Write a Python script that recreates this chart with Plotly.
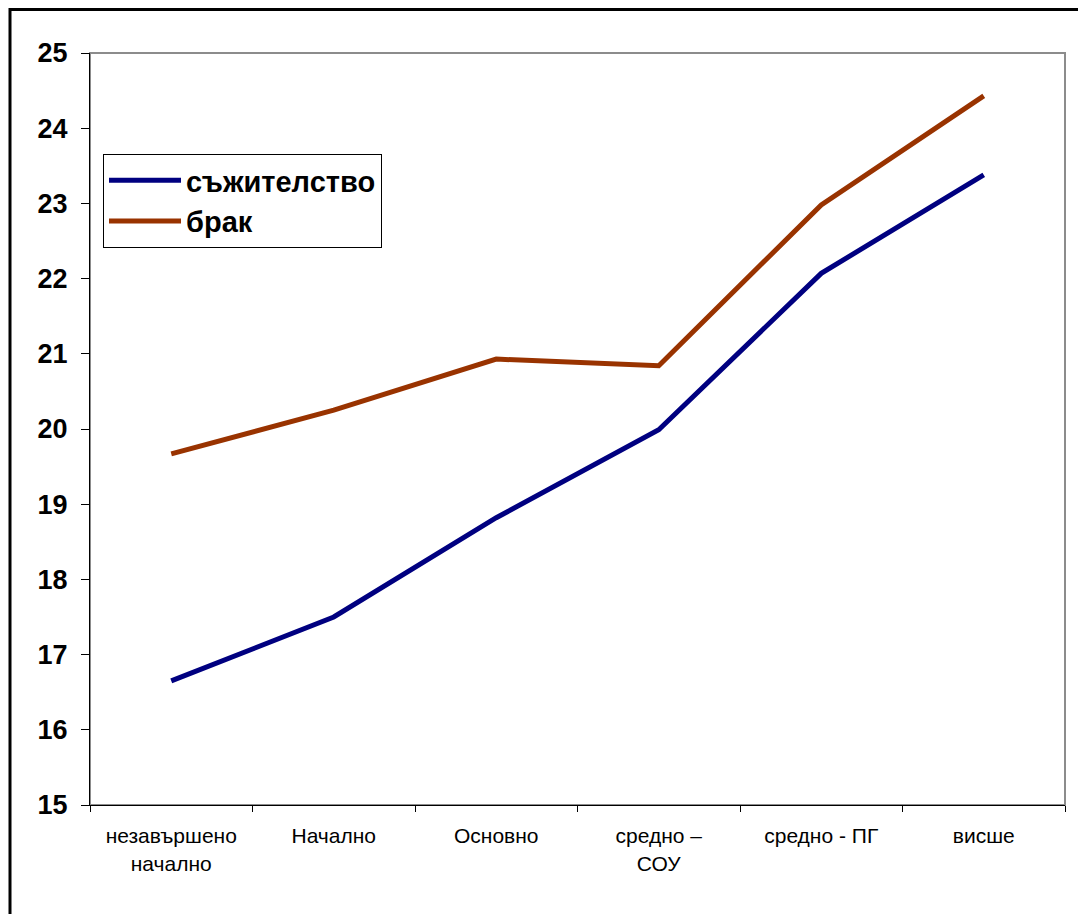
import plotly.graph_objects as go

categories = ["незавършено<br>начално", "Начално", "Основно", "средно –<br>СОУ", "средно - ПГ", "висше"]
cohabitation = [16.65, 17.5, 18.82, 19.99, 22.07, 23.38]
marriage = [19.67, 20.25, 20.93, 20.84, 22.98, 24.43]
y_ticks = [15, 16, 17, 18, 19, 20, 21, 22, 23, 24, 25]

OFF = 8  # page body margin
W, H = 1086 - OFF, 914 - OFF
L, R, T, B = 90 - OFF, 1065 - OFF, 53 - OFF, 805 - OFF

fig = go.Figure()
fig.add_trace(go.Scatter(x=categories, y=cohabitation, mode="lines", name="съжителство",
                         line=dict(color="#000080", width=5)))
fig.add_trace(go.Scatter(x=categories, y=marriage, mode="lines", name="брак",
                         line=dict(color="#993300", width=5)))

pw, ph = R - L, B - T
def px(x):
    return (x - OFF - L) / pw
def py(y):
    return 1 - (y - OFF - T) / ph

fig.update_layout(
    width=W, height=H,
    margin=dict(l=L, r=W - R, t=T, b=H - B, pad=0),
    paper_bgcolor="white", plot_bgcolor="white",
    font=dict(family="Liberation Sans, Arial, sans-serif", color="black"),
    showlegend=True,
    legend=dict(x=px(103), y=py(154), xanchor="left", yanchor="top",
                bordercolor="black", borderwidth=1, bgcolor="white",
                font=dict(size=29, family="Liberation Sans, Arial, sans-serif", weight="bold"),
                tracegroupgap=0, itemwidth=72),
    xaxis=dict(type="category", tickson="boundaries", ticks="outside", ticklen=6,
               tickcolor="black", showline=True, linecolor="black", linewidth=1,
               showgrid=False, zeroline=False, tickfont=dict(size=21),
               ticklabelstandoff=12, range=[-0.5, 5.5]),
    yaxis=dict(range=[15, 25], tickvals=y_ticks, ticks="outside", ticklen=8,
               tickcolor="black", showline=True, linecolor="black", linewidth=1,
               showgrid=False, zeroline=False, ticklabelstandoff=8,
               tickfont=dict(size=27, weight="bold")),
    shapes=[
        dict(type="rect", xref="paper", yref="paper", x0=0, y0=0, x1=1, y1=1,
             line=dict(color="#8c8c8c", width=2), layer="below"),
        dict(type="rect", xref="paper", yref="paper", x0=px(10), y0=py(1100), x1=px(1150), y1=py(9.5),
             line=dict(color="black", width=3), layer="below"),
    ],
)

fig.write_html("out.html")
